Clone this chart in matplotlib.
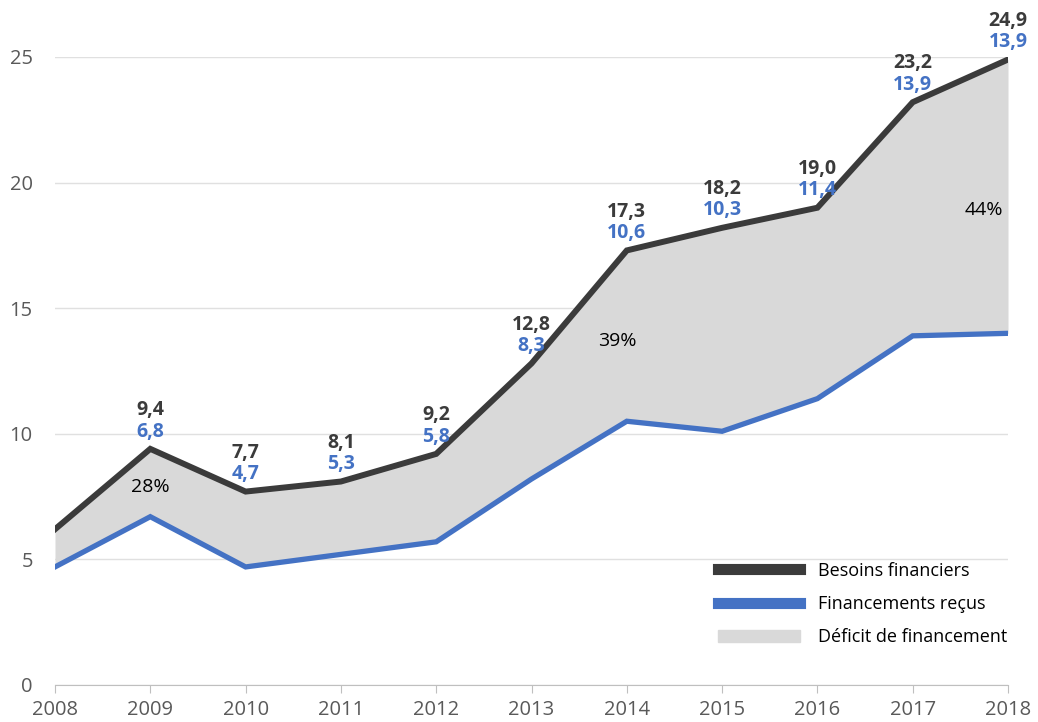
import numpy as np
import matplotlib.pyplot as plt
from matplotlib.lines import Line2D
from matplotlib.patches import Patch

plt.rcParams['font.family'] = ['Open Sans', 'DejaVu Sans']

# data
years = [2008, 2009, 2010, 2011, 2012, 2013, 2014, 2015, 2016, 2017, 2018]
besoins = [6.2, 9.4, 7.7, 8.1, 9.2, 12.8, 17.3, 18.2, 19.0, 23.2, 24.9]
financements = [4.7, 6.7, 4.7, 5.2, 5.7, 8.2, 10.5, 10.1, 11.4, 13.9, 14.0]
label_besoins = ['', '9,4', '7,7', '8,1', '9,2', '12,8', '17,3', '18,2', '19,0', '23,2', '24,9']
label_fin = ['', '6,8', '4,7', '5,3', '5,8', '8,3', '10,6', '10,3', '11,4', '13,9', '13,9']
pct_labels = ['28%', '39%', '44%']
pct_pos = [(2009, 7.9), (2013.9, 13.7), (2017.75, 18.9)]

dark = '#3b3b3b'
blue = '#4472c4'
fill = '#d9d9d9'

fig = plt.figure(figsize=(10.38, 7.22), dpi=100)
ax = fig.add_axes([55/1038, 1-685/722, (1008-55)/1038, (685-57)/722])

ax.fill_between(years, financements, besoins, color=fill, lw=0)
ax.plot(years, besoins, color=dark, lw=4.3, solid_joinstyle='miter')
ax.plot(years, financements, color=blue, lw=3.8, solid_joinstyle='miter')

for x, yb, lb, lf in zip(years, besoins, label_besoins, label_fin):
    if lb:
        ax.annotate(lb, (x, yb), xytext=(0, 28), textcoords='offset points',
                    ha='center', va='center', fontsize=14, fontweight='bold',
                    color=dark, annotation_clip=False)
        ax.annotate(lf, (x, yb), xytext=(0, 12.5), textcoords='offset points',
                    ha='center', va='center', fontsize=14, fontweight='bold',
                    color=blue, annotation_clip=False)

for t, (x, y) in zip(pct_labels, pct_pos):
    ax.text(x, y, t, ha='center', va='center', fontsize=14, color='black')

ax.set_xlim(2008, 2018)
ax.set_ylim(0, 25)
ax.set_xticks(years)
ax.set_yticks([0, 5, 10, 15, 20, 25])
ax.grid(axis='y', color='#e0e0e0', lw=1)
ax.set_axisbelow(True)
for s in ['top', 'right', 'left']:
    ax.spines[s].set_visible(False)
ax.spines['bottom'].set_color('#bfbfbf')
ax.tick_params(axis='x', colors='#bfbfbf', length=6, labelcolor='#595959',
               labelsize=14.5, pad=5)
ax.tick_params(axis='y', length=0, labelcolor='#595959', labelsize=14.5, pad=16)

handles = [Line2D([], [], color=dark, lw=8),
           Line2D([], [], color=blue, lw=8),
           Patch(color=fill)]
fig.legend(handles, ['Besoins financiers', 'Financements reçus', 'Déficit de financement'],
           loc='center left', bbox_to_anchor=(718/1038, 1-604/722), frameon=False,
           fontsize=13, handlelength=4.55, handleheight=0.7, handletextpad=1.0,
           labelspacing=0.85, borderpad=0, borderaxespad=0)

fig.savefig('out.png', dpi=100)
